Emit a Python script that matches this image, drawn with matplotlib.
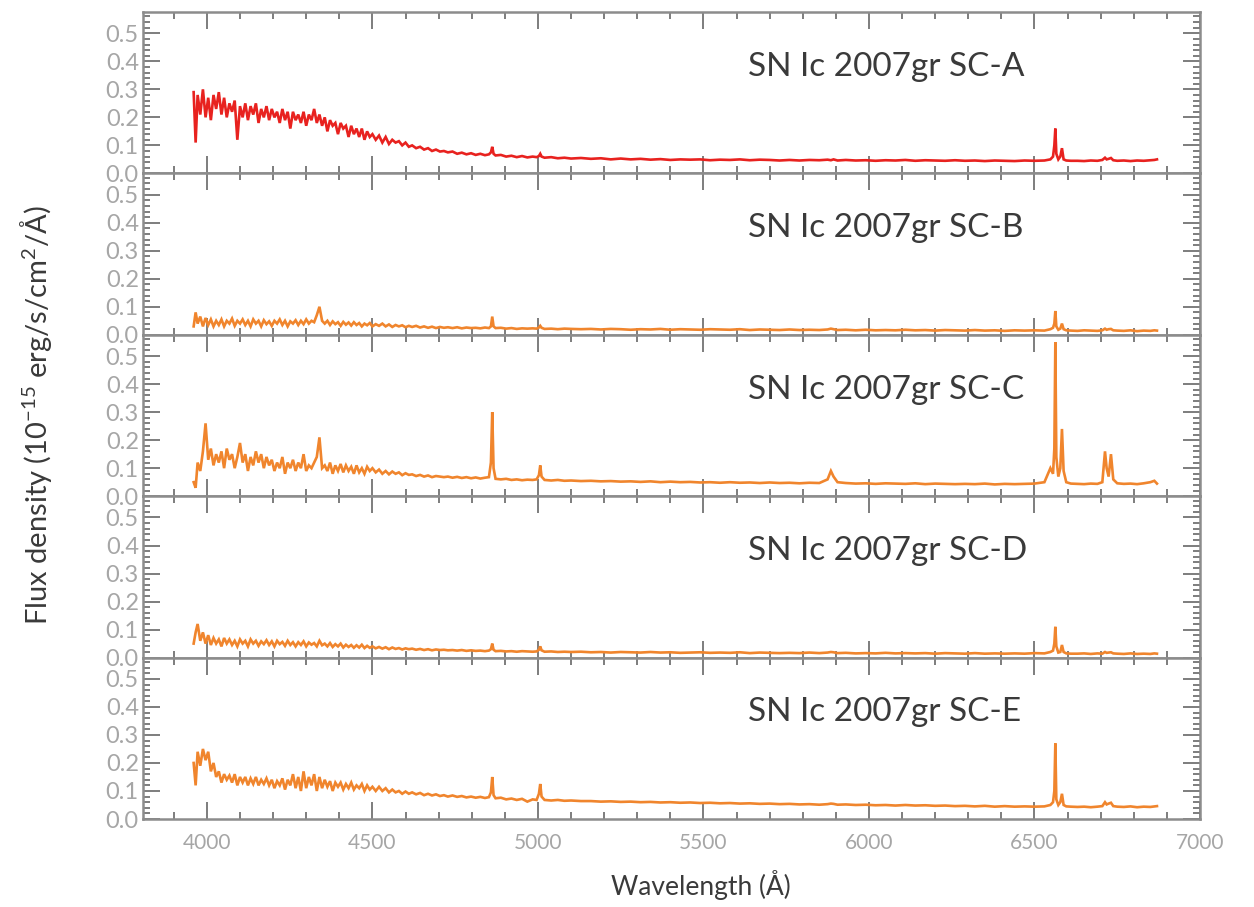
import matplotlib
matplotlib.use("Agg")
import matplotlib.pyplot as plt
from matplotlib.ticker import MultipleLocator, FixedLocator

plt.rcParams["font.family"] = ["Lato", "DejaVu Sans"]
plt.rcParams["mathtext.fontset"] = "custom"
plt.rcParams["mathtext.rm"] = "Lato"
plt.rcParams["mathtext.it"] = "Lato"

# Common wavelength sampling (Angstrom) shared by the five spectra
wavelength = [
    3960, 3966, 3972, 3980, 3988, 3996, 4004, 4012, 4020, 4028,
    4036, 4044, 4052, 4060, 4068, 4076, 4084, 4092, 4100, 4108,
    4116, 4124, 4132, 4140, 4148, 4156, 4164, 4172, 4180, 4188,
    4196, 4204, 4212, 4220, 4228, 4236, 4244, 4252, 4260, 4268,
    4276, 4284, 4292, 4300, 4308, 4316, 4324, 4332, 4340, 4348,
    4356, 4364, 4372, 4380, 4388, 4396, 4404, 4412, 4420, 4428,
    4436, 4444, 4452, 4460, 4468, 4476, 4484, 4492, 4500, 4510,
    4520, 4530, 4540, 4550, 4560, 4570, 4580, 4590, 4600, 4610,
    4620, 4632, 4644, 4656, 4668, 4680, 4692, 4704, 4716, 4728,
    4742, 4756, 4770, 4784, 4798, 4812, 4826, 4840, 4852, 4858,
    4862, 4866, 4872, 4888, 4904, 4920, 4936, 4952, 4968, 4984,
    4996, 5003, 5007, 5011, 5020, 5040, 5060, 5080, 5100, 5130,
    5160, 5190, 5220, 5250, 5280, 5310, 5340, 5370, 5400, 5430,
    5460, 5490, 5520, 5550, 5580, 5610, 5640, 5670, 5700, 5730,
    5760, 5790, 5820, 5850, 5875, 5885, 5893, 5905, 5930, 5960,
    5990, 6020, 6050, 6080, 6110, 6140, 6170, 6200, 6230, 6260,
    6290, 6320, 6350, 6380, 6410, 6440, 6470, 6500, 6530, 6548,
    6556, 6560, 6563, 6566, 6572, 6578, 6583, 6588, 6596, 6610,
    6630, 6650, 6670, 6690, 6705, 6713, 6718, 6724, 6731, 6738,
    6750, 6770, 6790, 6810, 6830, 6850, 6862, 6870,
]

# Flux density, 1e-15 erg/s/cm^2/A
flux_a = [
    0.29, 0.11, 0.28, 0.21, 0.30, 0.20, 0.27, 0.19, 0.28, 0.23,
    0.29, 0.21, 0.27, 0.20, 0.25, 0.22, 0.26, 0.12, 0.24, 0.20,
    0.25, 0.19, 0.24, 0.21, 0.25, 0.18, 0.23, 0.20, 0.24, 0.19,
    0.23, 0.20, 0.22, 0.18, 0.23, 0.19, 0.22, 0.16, 0.22, 0.19,
    0.21, 0.18, 0.22, 0.17, 0.21, 0.19, 0.23, 0.18, 0.21, 0.17,
    0.20, 0.15, 0.19, 0.17, 0.18, 0.14, 0.18, 0.16, 0.17, 0.13,
    0.17, 0.14, 0.16, 0.13, 0.16, 0.12, 0.15, 0.13, 0.14, 0.12,
    0.135, 0.11, 0.13, 0.105, 0.12, 0.11, 0.115, 0.10, 0.11, 0.095,
    0.10, 0.09, 0.095, 0.085, 0.09, 0.08, 0.085, 0.078, 0.08, 0.075,
    0.078, 0.07, 0.074, 0.068, 0.072, 0.066, 0.07, 0.065, 0.068, 0.075,
    0.095, 0.07, 0.064, 0.066, 0.06, 0.063, 0.058, 0.062, 0.057, 0.06,
    0.058, 0.062, 0.07, 0.06, 0.056, 0.058, 0.054, 0.056, 0.053, 0.055,
    0.052, 0.054, 0.05, 0.053, 0.05, 0.052, 0.049, 0.051, 0.048, 0.05,
    0.049, 0.05, 0.047, 0.049, 0.048, 0.05, 0.047, 0.049, 0.048, 0.046,
    0.048, 0.046, 0.048, 0.047, 0.049, 0.047, 0.05, 0.046, 0.048, 0.046,
    0.047, 0.045, 0.047, 0.046, 0.048, 0.045, 0.047, 0.046, 0.045, 0.047,
    0.045, 0.046, 0.044, 0.046, 0.045, 0.044, 0.046, 0.045, 0.046, 0.05,
    0.06, 0.10, 0.16, 0.07, 0.05, 0.06, 0.09, 0.05, 0.046, 0.045,
    0.045, 0.044, 0.046, 0.045, 0.048, 0.056, 0.05, 0.052, 0.055, 0.047,
    0.045, 0.046, 0.044, 0.046, 0.045, 0.047, 0.048, 0.05,
]

flux_b = [
    0.03, 0.08, 0.04, 0.065, 0.03, 0.06, 0.035, 0.055, 0.03, 0.05,
    0.035, 0.055, 0.03, 0.05, 0.04, 0.058, 0.032, 0.05, 0.04, 0.055,
    0.035, 0.05, 0.03, 0.055, 0.04, 0.05, 0.03, 0.052, 0.038, 0.048,
    0.032, 0.05, 0.04, 0.055, 0.035, 0.05, 0.03, 0.048, 0.04, 0.052,
    0.035, 0.05, 0.038, 0.055, 0.04, 0.05, 0.045, 0.07, 0.10, 0.05,
    0.04, 0.05, 0.035, 0.048, 0.038, 0.045, 0.032, 0.046, 0.036, 0.044,
    0.033, 0.045, 0.035, 0.042, 0.03, 0.04, 0.034, 0.042, 0.03, 0.038,
    0.032, 0.04, 0.03, 0.037, 0.028, 0.035, 0.03, 0.034, 0.027, 0.032,
    0.028, 0.032, 0.026, 0.03, 0.025, 0.029, 0.024, 0.028, 0.025, 0.027,
    0.024, 0.027, 0.023, 0.026, 0.024, 0.025, 0.023, 0.026, 0.024, 0.03,
    0.065, 0.03, 0.024, 0.025, 0.022, 0.024, 0.021, 0.023, 0.022, 0.023,
    0.022, 0.026, 0.032, 0.025, 0.021, 0.022, 0.02, 0.022, 0.021, 0.02,
    0.021, 0.019, 0.021, 0.02, 0.018, 0.02, 0.019, 0.021, 0.018, 0.02,
    0.019, 0.018, 0.02, 0.019, 0.018, 0.02, 0.017, 0.019, 0.018, 0.017,
    0.019, 0.017, 0.018, 0.017, 0.019, 0.022, 0.02, 0.017, 0.018, 0.016,
    0.018, 0.016, 0.017, 0.016, 0.018, 0.016, 0.017, 0.015, 0.017, 0.016,
    0.015, 0.017, 0.015, 0.016, 0.014, 0.016, 0.015, 0.016, 0.015, 0.02,
    0.025, 0.04, 0.085, 0.03, 0.018, 0.022, 0.04, 0.02, 0.016, 0.015,
    0.014, 0.016, 0.015, 0.014, 0.016, 0.022, 0.018, 0.02, 0.021, 0.016,
    0.015, 0.014, 0.016, 0.013, 0.015, 0.014, 0.016, 0.015,
]

flux_c = [
    0.05, 0.03, 0.12, 0.09, 0.16, 0.26, 0.13, 0.17, 0.11, 0.15,
    0.12, 0.16, 0.10, 0.17, 0.13, 0.15, 0.10, 0.14, 0.19, 0.12,
    0.15, 0.09, 0.14, 0.11, 0.16, 0.12, 0.15, 0.10, 0.14, 0.11,
    0.13, 0.09, 0.12, 0.10, 0.14, 0.08, 0.12, 0.10, 0.13, 0.09,
    0.12, 0.10, 0.15, 0.09, 0.11, 0.10, 0.12, 0.14, 0.21, 0.10,
    0.11, 0.09, 0.12, 0.08, 0.11, 0.09, 0.115, 0.085, 0.11, 0.09,
    0.105, 0.08, 0.11, 0.085, 0.10, 0.08, 0.105, 0.09, 0.10, 0.085,
    0.095, 0.08, 0.09, 0.078, 0.088, 0.08, 0.085, 0.075, 0.082, 0.076,
    0.078, 0.072, 0.076, 0.07, 0.074, 0.068, 0.072, 0.07, 0.068, 0.07,
    0.066, 0.069, 0.065, 0.068, 0.064, 0.067, 0.063, 0.066, 0.068, 0.12,
    0.30, 0.10, 0.062, 0.06, 0.062, 0.058, 0.06, 0.057, 0.059, 0.058,
    0.06, 0.075, 0.11, 0.07, 0.058, 0.056, 0.058, 0.055, 0.056, 0.054,
    0.055, 0.053, 0.054, 0.052, 0.053, 0.051, 0.053, 0.05, 0.052, 0.05,
    0.051, 0.049, 0.05, 0.048, 0.05, 0.048, 0.049, 0.047, 0.049, 0.047,
    0.048, 0.046, 0.048, 0.047, 0.06, 0.09, 0.07, 0.05, 0.047, 0.045,
    0.046, 0.044, 0.046, 0.045, 0.044, 0.046, 0.043, 0.045, 0.044, 0.043,
    0.044, 0.043, 0.045, 0.042, 0.044, 0.043, 0.044, 0.045, 0.05, 0.10,
    0.08, 0.17, 0.55, 0.14, 0.07, 0.10, 0.24, 0.09, 0.05, 0.045,
    0.044, 0.043, 0.045, 0.044, 0.05, 0.16, 0.10, 0.07, 0.15, 0.06,
    0.046, 0.044, 0.045, 0.043, 0.046, 0.05, 0.055, 0.045,
]

flux_d = [
    0.05, 0.09, 0.12, 0.06, 0.09, 0.05, 0.08, 0.045, 0.07, 0.05,
    0.065, 0.04, 0.07, 0.05, 0.065, 0.045, 0.06, 0.04, 0.065, 0.05,
    0.06, 0.04, 0.065, 0.05, 0.06, 0.042, 0.058, 0.048, 0.062, 0.045,
    0.058, 0.04, 0.06, 0.048, 0.056, 0.042, 0.06, 0.045, 0.055, 0.04,
    0.055, 0.045, 0.058, 0.04, 0.054, 0.046, 0.052, 0.04, 0.06, 0.044,
    0.05, 0.04, 0.052, 0.038, 0.048, 0.04, 0.05, 0.036, 0.046, 0.038,
    0.045, 0.035, 0.044, 0.036, 0.046, 0.034, 0.042, 0.035, 0.04, 0.033,
    0.038, 0.032, 0.037, 0.03, 0.036, 0.031, 0.034, 0.029, 0.033, 0.03,
    0.032, 0.028, 0.031, 0.027, 0.03, 0.026, 0.029, 0.027, 0.028, 0.026,
    0.027, 0.025, 0.027, 0.024, 0.026, 0.024, 0.025, 0.023, 0.025, 0.03,
    0.05, 0.028, 0.023, 0.024, 0.022, 0.023, 0.021, 0.023, 0.022, 0.021,
    0.022, 0.028, 0.04, 0.026, 0.021, 0.022, 0.02, 0.021, 0.02, 0.021,
    0.019, 0.02, 0.018, 0.02, 0.019, 0.018, 0.02, 0.018, 0.019, 0.017,
    0.018, 0.019, 0.017, 0.018, 0.017, 0.019, 0.016, 0.018, 0.017, 0.016,
    0.017, 0.016, 0.018, 0.016, 0.018, 0.02, 0.019, 0.016, 0.017, 0.015,
    0.016, 0.015, 0.017, 0.015, 0.016, 0.015, 0.016, 0.014, 0.016, 0.015,
    0.014, 0.016, 0.014, 0.015, 0.014, 0.015, 0.014, 0.016, 0.015, 0.02,
    0.025, 0.05, 0.11, 0.04, 0.018, 0.02, 0.045, 0.02, 0.015, 0.014,
    0.014, 0.015, 0.013, 0.015, 0.014, 0.02, 0.017, 0.018, 0.019, 0.015,
    0.014, 0.013, 0.015, 0.013, 0.014, 0.013, 0.015, 0.014,
]

flux_e = [
    0.20, 0.12, 0.24, 0.19, 0.25, 0.21, 0.24, 0.17, 0.20, 0.15,
    0.17, 0.13, 0.16, 0.14, 0.155, 0.13, 0.16, 0.12, 0.15, 0.13,
    0.15, 0.12, 0.145, 0.125, 0.15, 0.12, 0.14, 0.125, 0.145, 0.12,
    0.14, 0.11, 0.135, 0.12, 0.145, 0.105, 0.14, 0.12, 0.16, 0.11,
    0.15, 0.10, 0.17, 0.11, 0.15, 0.12, 0.16, 0.10, 0.15, 0.11,
    0.14, 0.115, 0.135, 0.10, 0.13, 0.115, 0.13, 0.105, 0.125, 0.11,
    0.13, 0.105, 0.12, 0.11, 0.125, 0.10, 0.12, 0.105, 0.115, 0.10,
    0.115, 0.10, 0.11, 0.095, 0.105, 0.095, 0.10, 0.09, 0.098, 0.09,
    0.095, 0.088, 0.093, 0.085, 0.09, 0.084, 0.088, 0.082, 0.085, 0.08,
    0.084, 0.079, 0.082, 0.077, 0.08, 0.076, 0.079, 0.075, 0.078, 0.095,
    0.15, 0.085, 0.074, 0.076, 0.07, 0.073, 0.068, 0.072, 0.062, 0.07,
    0.068, 0.09, 0.125, 0.08, 0.068, 0.066, 0.068, 0.065, 0.066, 0.064,
    0.064, 0.062, 0.063, 0.061, 0.062, 0.06, 0.061, 0.059, 0.06, 0.058,
    0.059, 0.057, 0.058, 0.056, 0.057, 0.055, 0.056, 0.054, 0.055, 0.053,
    0.054, 0.052, 0.053, 0.051, 0.053, 0.055, 0.054, 0.051, 0.052, 0.05,
    0.051, 0.049, 0.05, 0.048, 0.05, 0.048, 0.049, 0.047, 0.048, 0.046,
    0.047, 0.045, 0.047, 0.044, 0.046, 0.044, 0.045, 0.044, 0.045, 0.05,
    0.06, 0.10, 0.27, 0.07, 0.05, 0.06, 0.09, 0.05, 0.045, 0.044,
    0.043, 0.044, 0.042, 0.044, 0.046, 0.06, 0.052, 0.055, 0.058, 0.046,
    0.044, 0.043, 0.045, 0.042, 0.044, 0.043, 0.045, 0.046,
]

panel_labels = ["SN Ic 2007gr SC-A", "SN Ic 2007gr SC-B", "SN Ic 2007gr SC-C",
                "SN Ic 2007gr SC-D", "SN Ic 2007gr SC-E"]
line_colors = ["#e8221f", "#f0852d", "#f0852d", "#f0852d", "#f0852d"]
y_ticks = [0.0, 0.1, 0.2, 0.3, 0.4, 0.5]
x_ticks = [4000, 4500, 5000, 5500, 6000, 6500, 7000]

spectra = [flux_a, flux_b, flux_c, flux_d, flux_e]

W, H = 1254, 907
fig, axes = plt.subplots(5, 1, figsize=(W / 100, H / 100), dpi=100, sharex=True)
fig.subplots_adjust(left=143 / W, right=1200 / W, top=1 - 12 / H,
                    bottom=1 - 819 / H, hspace=0)

spine_col = "#8c8c8c"
tick_col = "#5a5a5a"
label_col = "#a6a6a6"
text_col = "#3a3a3a"

for ax, flux, lab, col in zip(axes, spectra, panel_labels, line_colors):
    ax.plot(wavelength, flux, color=col, lw=1.9, solid_joinstyle="miter")
    ax.set_xlim(3807, 7000)
    ax.set_ylim(0, 0.576)
    ax.yaxis.set_major_locator(FixedLocator(y_ticks))
    ax.yaxis.set_minor_locator(MultipleLocator(0.02))
    ax.xaxis.set_major_locator(FixedLocator(x_ticks))
    ax.xaxis.set_minor_locator(MultipleLocator(100))
    ax.tick_params(which="both", direction="in", top=True, right=True,
                   color=tick_col, width=1.1, labelcolor=label_col)
    ax.tick_params(which="major", length=12)
    ax.tick_params(which="minor", length=5)
    ax.tick_params(axis="y", labelsize=17, pad=3)
    ax.tick_params(axis="x", labelsize=15, pad=10)
    ax.set_yticklabels([f"{v:.1f}" for v in y_ticks])
    for sp in ax.spines.values():
        sp.set_color(spine_col)
        sp.set_linewidth(1.8)
    ax.text(0.572, 0.66, lab, transform=ax.transAxes, ha="left", va="center",
            fontsize=24, color=text_col)

axes[-1].set_xticklabels([str(v) for v in x_ticks])

fig.text(701 / W, 1 - 885 / H, "Wavelength (Å)", ha="center", va="center",
         fontsize=19, color=text_col)
fig.text(36 / W, 1 - 415 / H,
         "Flux density (10$^{-15}$ erg/s/cm$^{2}$/Å)",
         rotation=90, ha="center", va="center", fontsize=21, color=text_col)

fig.savefig("out.png", dpi=100, facecolor="white")
